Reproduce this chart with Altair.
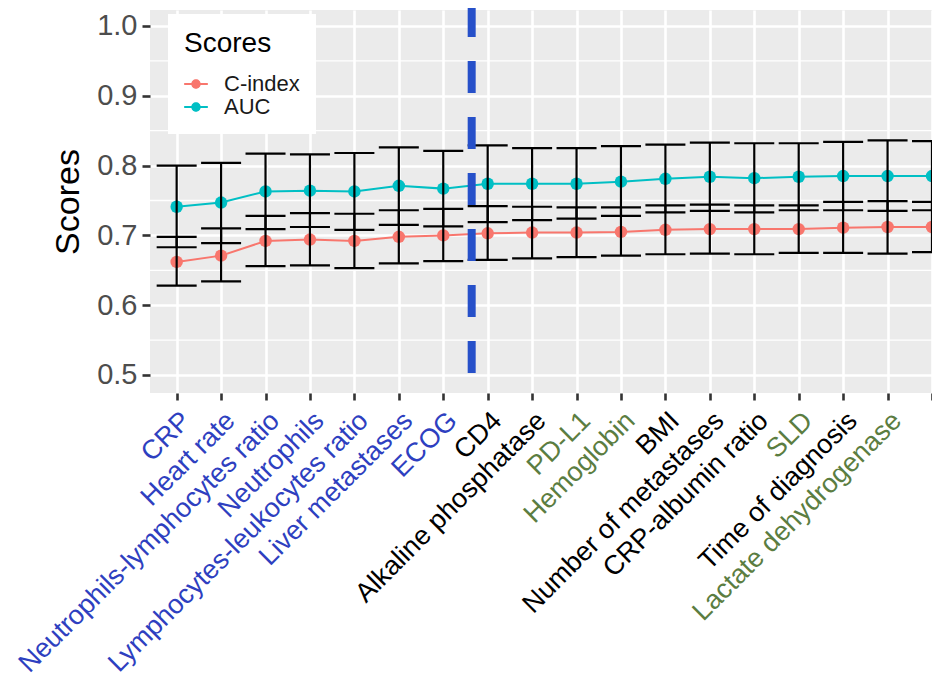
import json
import altair as alt
import pandas as pd

# ---------------- data ----------------
categories = [
    "CRP", "Heart rate", "Neutrophils-lymphocytes ratio", "Neutrophils",
    "Lymphocytes-leukocytes ratio", "Liver metastases", "ECOG", "CD4",
    "Alkaline phosphatase", "PD-L1", "Hemoglobin", "BMI",
    "Number of metastases", "CRP-albumin ratio", "SLD", "Time of diagnosis",
    "Lactate dehydrogenase", "",
]
auc = [0.741, 0.747, 0.763, 0.764, 0.763, 0.771, 0.767, 0.774, 0.774,
       0.774, 0.777, 0.781, 0.784, 0.782, 0.784, 0.785, 0.785, 0.785]
auc_low = [0.683, 0.689, 0.709, 0.712, 0.708, 0.715, 0.713, 0.719, 0.722,
           0.724, 0.728, 0.733, 0.735, 0.733, 0.736, 0.736, 0.735, 0.736]
auc_high = [0.800, 0.804, 0.817, 0.816, 0.818, 0.826, 0.821, 0.829, 0.825,
            0.825, 0.828, 0.830, 0.833, 0.832, 0.832, 0.834, 0.836, 0.835]
cindex = [0.662, 0.671, 0.692, 0.694, 0.692, 0.698, 0.700, 0.703, 0.704,
          0.704, 0.705, 0.708, 0.709, 0.709, 0.709, 0.711, 0.712, 0.712]
cindex_low = [0.628, 0.634, 0.656, 0.657, 0.653, 0.660, 0.663, 0.665, 0.667,
              0.669, 0.671, 0.673, 0.674, 0.673, 0.675, 0.675, 0.674, 0.676]
cindex_high = [0.698, 0.710, 0.728, 0.732, 0.731, 0.736, 0.738, 0.742, 0.741,
               0.740, 0.740, 0.743, 0.744, 0.743, 0.743, 0.748, 0.749, 0.748]
series_names = ["C-index", "AUC"]
y_ticks = [0.5, 0.6, 0.7, 0.8, 0.9, 1.0]
y_minor = [0.55, 0.65, 0.75, 0.85, 0.95]
blue_labels = ["CRP", "Heart rate", "Neutrophils-lymphocytes ratio", "Neutrophils",
               "Lymphocytes-leukocytes ratio", "Liver metastases", "ECOG"]
green_labels = ["PD-L1", "Hemoglobin", "SLD", "Lactate dehydrogenase"]
separator_x = [7.64]
separator_y = [1.03]
separator_y2 = [0.503]

# ---------------- tables ----------------
rows = []
for i, name in enumerate(categories):
    rows.append(dict(pos=i + 1, cat=name, series="C-index",
                     value=cindex[i], low=cindex_low[i], high=cindex_high[i]))
    rows.append(dict(pos=i + 1, cat=name, series="AUC",
                     value=auc[i], low=auc_low[i], high=auc_high[i]))
df = pd.DataFrame(rows)
minor_df = pd.DataFrame({"y": y_minor})
sep_df = pd.DataFrame({"x": separator_x, "y": separator_y, "y2": separator_y2})

blue_idx = [categories.index(c) + 1 for c in blue_labels]
green_idx = [categories.index(c) + 1 for c in green_labels]

FONT = "Liberation Sans"
BLUE_TXT = "#2E3FC0"
GREEN_TXT = "#5B7D41"

xscale = alt.Scale(domain=[0.4, 18.0], nice=False, zero=False)
yscale = alt.Scale(domain=[0.4742, 1.0229], nice=False, zero=False)
cscale = alt.Scale(domain=series_names, range=["#F8766D", "#00BFC4"])

label_expr = json.dumps(categories) + "[datum.value - 1]"
color_expr = ("indexof(%s, datum.value) >= 0 ? '%s' : (indexof(%s, datum.value) >= 0 ? '%s' : 'black')"
              % (json.dumps(blue_idx), BLUE_TXT, json.dumps(green_idx), GREEN_TXT))

xaxis = alt.Axis(
    values=list(range(1, len(categories) + 1)),
    labelExpr=label_expr,
    title=None,
    domain=False,
    grid=True, gridColor="white", gridWidth=2.6,
    ticks=True, tickColor="#333333", tickWidth=2.6, tickSize=7,
    labelAngle=-45, labelAlign="right", labelBaseline="top",
    labelFontSize=27, labelFont=FONT, labelPadding=7,
    labelOverlap=False, labelFlush=False, labelBound=False, labelLimit=0,
    labelColor=alt.ExprRef(color_expr),
)

yaxis = alt.Axis(
    values=y_ticks, format=".1f",
    title="Scores", titleFontSize=34, titleFont=FONT, titleFontWeight="normal",
    titleColor="black", titleAngle=-90, titleX=-72, titleY=191.5,
    titleBaseline="alphabetic", titleAlign="center",
    domain=False,
    grid=True, gridColor="white", gridWidth=2.6,
    ticks=True, tickColor="#333333", tickWidth=2.6, tickSize=8,
    labelFontSize=29, labelFont=FONT, labelColor="#4D4D4D", labelPadding=5,
)

legend = alt.Legend(
    title="Scores", orient="none", legendX=18, legendY=4,
    fillColor="white", padding=16,
    titleFontSize=28, titleFontWeight="normal", titleColor="black",
    titleFont=FONT, titlePadding=14,
    labelFontSize=22, labelColor="#1A1A1A", labelFont=FONT,
    labelOffset=16, rowPadding=0,
    symbolType="M-1,-0.08L1,-0.08L1,0.08L-1,0.08Z"
               "M0.4,0A0.4,0.4,0,1,1,-0.4,0A0.4,0.4,0,1,1,0.4,0Z",
    symbolSize=560, symbolStrokeWidth=0, symbolOpacity=1,
)

minor = alt.Chart(minor_df).mark_rule(color="white", strokeWidth=1.3).encode(
    y=alt.Y("y:Q", scale=yscale, axis=yaxis)
)

lines = alt.Chart(df).mark_line(strokeWidth=2).encode(
    x=alt.X("pos:Q", scale=xscale, axis=xaxis),
    y=alt.Y("value:Q", scale=yscale, axis=yaxis),
    color=alt.Color("series:N", scale=cscale, legend=legend),
)

points = alt.Chart(df).mark_circle(size=155, opacity=1).encode(
    x=alt.X("pos:Q", scale=xscale, axis=xaxis),
    y=alt.Y("value:Q", scale=yscale, axis=yaxis),
    color=alt.Color("series:N", scale=cscale, legend=legend),
)

bars = alt.Chart(df).mark_rule(color="black", strokeWidth=2.2).encode(
    x=alt.X("pos:Q", scale=xscale, axis=xaxis),
    y=alt.Y("low:Q", scale=yscale, axis=yaxis),
    y2="high:Q",
    detail="series:N",
)

caps = alt.Chart(df).transform_fold(
    ["low", "high"], as_=["bound", "yv"]
).mark_tick(orient="horizontal", size=40, thickness=2.2, color="black", opacity=1).encode(
    x=alt.X("pos:Q", scale=xscale, axis=xaxis),
    y=alt.Y("yv:Q", scale=yscale, axis=yaxis),
    detail="series:N",
)

sep = alt.Chart(sep_df).mark_rule(
    color="#2650C9", strokeWidth=8, strokeDash=[32, 24], strokeCap="butt"
).encode(
    x=alt.X("x:Q", scale=xscale, axis=xaxis),
    y=alt.Y("y:Q", scale=yscale, axis=yaxis),
    y2="y2:Q",
)

chart = alt.layer(minor, lines, points, bars, caps, sep).properties(
    width=782, height=383,
    padding={"left": 142, "top": 2, "right": 0, "bottom": 286},
    autosize=alt.AutoSizeParams(type="none"),
    background="white",
).configure(
    font=FONT
).configure_view(
    fill="#EBEBEB", strokeWidth=0
)

chart.save("out.html", embed_options={"renderer": "svg", "actions": False})
